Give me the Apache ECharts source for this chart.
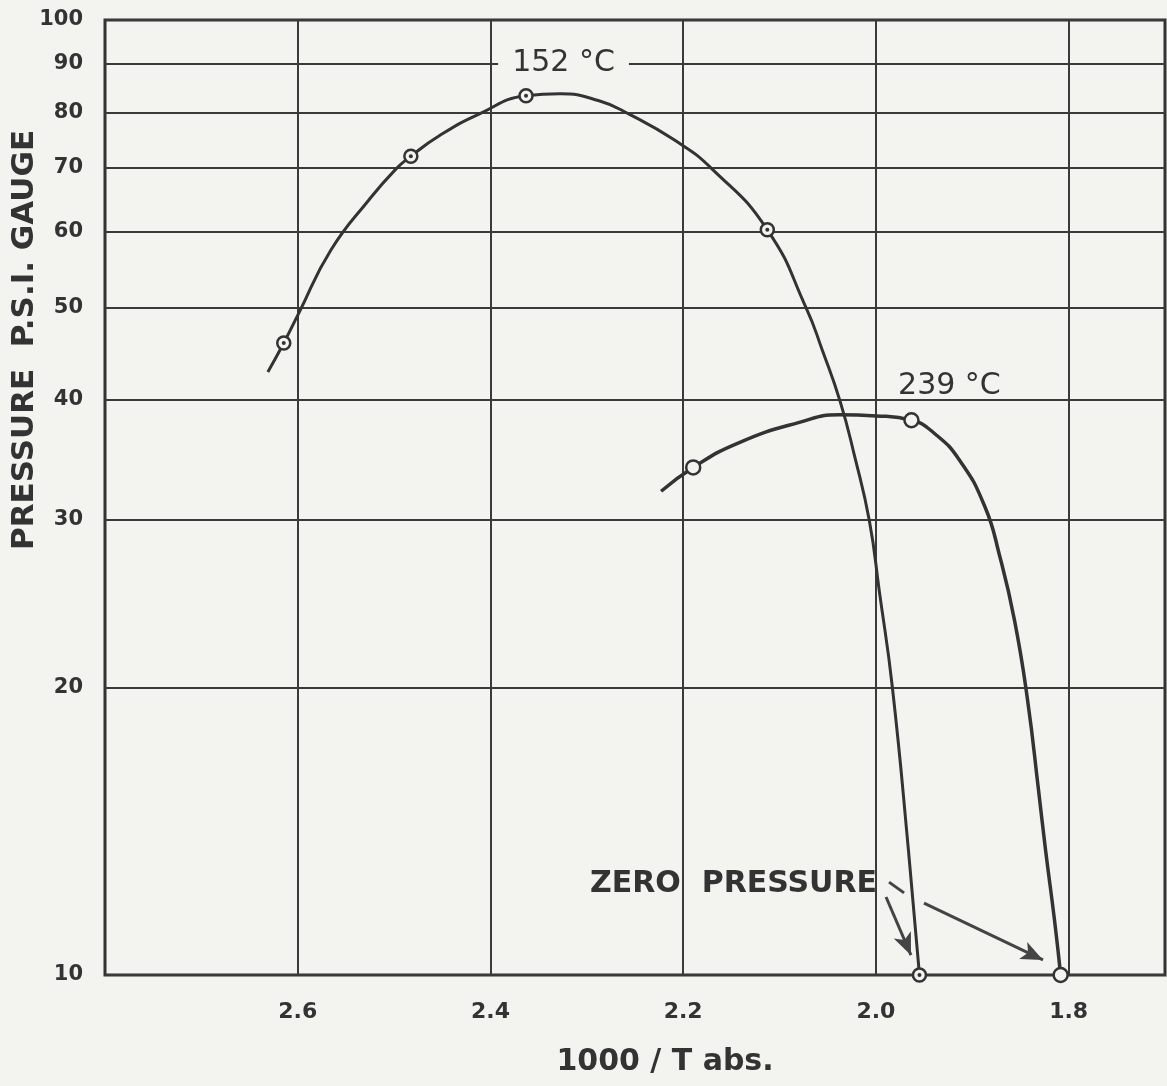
<!DOCTYPE html>
<html><head><meta charset="utf-8">
<script src="https://cdn.jsdelivr.net/npm/echarts@6/dist/echarts.min.js"></script>
<style>html,body{margin:0;padding:0;background:#f3f3f0}#c{width:1167px;height:1086px}</style>
</head><body><div id="c"></div><script>
// ---- data ----
const xTicks = [2.6, 2.4, 2.2, 2.0, 1.8];
const yTicks = [10, 20, 30, 40, 50, 60, 70, 80, 90, 100];
// hand-drawn 152 °C curve, traced
const curve152 = [[2.631,42.8],[2.6145,45.9],[2.599,49.3],[2.5657,57.4],[2.5262,64.8],[2.4982,69.8],[2.4826,72.0],[2.4535,75.6],[2.4119,79.7],[2.3631,83.3],[2.3278,83.7],[2.2873,82.3],[2.2561,79.7],[2.2094,74.9],[2.1699,69.8],[2.1127,60.3],[2.0722,49.9],[2.0556,45.1],[2.0369,39.8],[2.0223,35.0],[2.0068,29.9],[1.9964,25.2],[1.9829,20.0],[1.9662,13.5],[1.9548,10]];
const points152 = [[2.6145,45.9],[2.4826,72.0],[2.3631,83.3],[2.1127,60.3],[1.9548,10]];
// hand-drawn 239 °C curve, traced
const curve239 = [[2.2229,32.1],[2.1896,34.0],[2.1418,36.1],[2.0795,37.9],[2.0379,38.6],[1.9995,38.5],[1.9631,38.1],[1.9392,36.9],[1.9132,34.6],[1.8873,31.0],[1.8717,27.5],[1.8561,23.5],[1.8426,19.4],[1.8312,15.6],[1.8239,13.5],[1.8146,11.4],[1.8083,10]];
const points239 = [[2.1896,34.0],[1.9631,38.1],[1.8083,10]];
// annotation anchors (data coords)
const label152 = [2.392, 90];
const label239 = [1.977, 41.4];
const labelZero = [1.9988, 12.45];
const arrowShort = [[1.9895, 12.07], [1.9636, 10.49]];
const dashSeg = [[1.9864, 12.51], [1.9708, 12.19]];
const arrowLong = [[1.9501, 11.89], [1.8266, 10.37]];

const BG = '#f3f3f0', INK = '#333333', FONT = 'DejaVu Sans';
const chart = echarts.init(document.getElementById('c'));
chart.setOption({
  backgroundColor: BG,
  animation: false,
  grid: {left: 105, right: 2, top: 20, bottom: 111, show: true, borderColor: INK, borderWidth: 3, backgroundColor: 'transparent'},
  xAxis: {
    type: 'value', inverse: true, min: 1.7, max: 2.8,
    axisLine: {show: false},
    axisTick: {show: false, customValues: xTicks},
    axisLabel: {customValues: xTicks, formatter: v => v.toFixed(1), margin: 26, fontSize: 22, fontWeight: 'bold', color: INK, fontFamily: FONT},
    splitLine: {show: true, lineStyle: {color: '#3a3a3a', width: 2}}
  },
  yAxis: {
    type: 'log', logBase: 10, min: 10, max: 100,
    axisLine: {show: false},
    axisTick: {show: false, customValues: yTicks},
    axisLabel: {customValues: yTicks, margin: 22, fontSize: 21, fontWeight: 'bold', color: INK, fontFamily: FONT},
    splitLine: {show: true, lineStyle: {color: '#3a3a3a', width: 2}}
  },
  graphic: [
    {type: 'text', x: 25, y: 340, rotation: Math.PI / 2, style: {text: 'PRESSURE  P.S.I. GAUGE', font: 'bold 31px "DejaVu Sans"', fill: INK, textAlign: 'center', textVerticalAlign: 'middle'}},
    {type: 'text', x: 665, y: 1062, style: {text: '1000 / T abs.', font: 'bold 30px "DejaVu Sans"', fill: INK, textAlign: 'center', textVerticalAlign: 'middle'}}
  ],
  series: [
    {name: '152 °C', type: 'line', data: curve152, showSymbol: false, smooth: 0.5, lineStyle: {color: INK, width: 3}, z: 3},
    {name: '239 °C', type: 'line', data: curve239, showSymbol: false, smooth: 0.5, lineStyle: {color: INK, width: 3.5}, z: 3},
    {type: 'scatter', data: points152, symbol: 'circle', symbolSize: 13, itemStyle: {color: BG, borderColor: INK, borderWidth: 2.5, opacity: 1}, z: 5},
    {type: 'scatter', data: points152, symbol: 'circle', symbolSize: 4, itemStyle: {color: INK, opacity: 1}, z: 6},
    {type: 'scatter', data: points239, symbol: 'circle', symbolSize: 14, itemStyle: {color: BG, borderColor: INK, borderWidth: 2.5, opacity: 1}, z: 5},
    {
      type: 'scatter', symbolSize: 0, z: 7, silent: true,
      itemStyle: {opacity: 1},
      data: [
        {value: label152, label: {show: true, position: 'right', distance: 0, formatter: '152 °C', fontSize: 30, color: INK, fontFamily: FONT, backgroundColor: BG, padding: [3, 14]}},
        {value: label239, label: {show: true, position: 'right', distance: 0, formatter: '239 °C', fontSize: 30, color: INK, fontFamily: FONT}},
        {value: labelZero, label: {show: true, position: 'left', distance: 0, formatter: 'ZERO  PRESSURE', fontSize: 30, fontWeight: 'bold', color: INK, fontFamily: FONT}}
      ],
      markLine: {
        silent: true, animation: false,
        lineStyle: {color: '#444', width: 3, type: 'solid', opacity: 1},
        label: {show: false},
        data: [
          [{coord: arrowShort[0], symbol: 'none'}, {coord: arrowShort[1], symbol: 'arrow', symbolSize: [14, 22]}],
          [{coord: dashSeg[0], symbol: 'none'}, {coord: dashSeg[1], symbol: 'none'}],
          [{coord: arrowLong[0], symbol: 'none'}, {coord: arrowLong[1], symbol: 'arrow', symbolSize: [14, 22]}]
        ]
      }
    }
  ]
});
</script></body></html>
